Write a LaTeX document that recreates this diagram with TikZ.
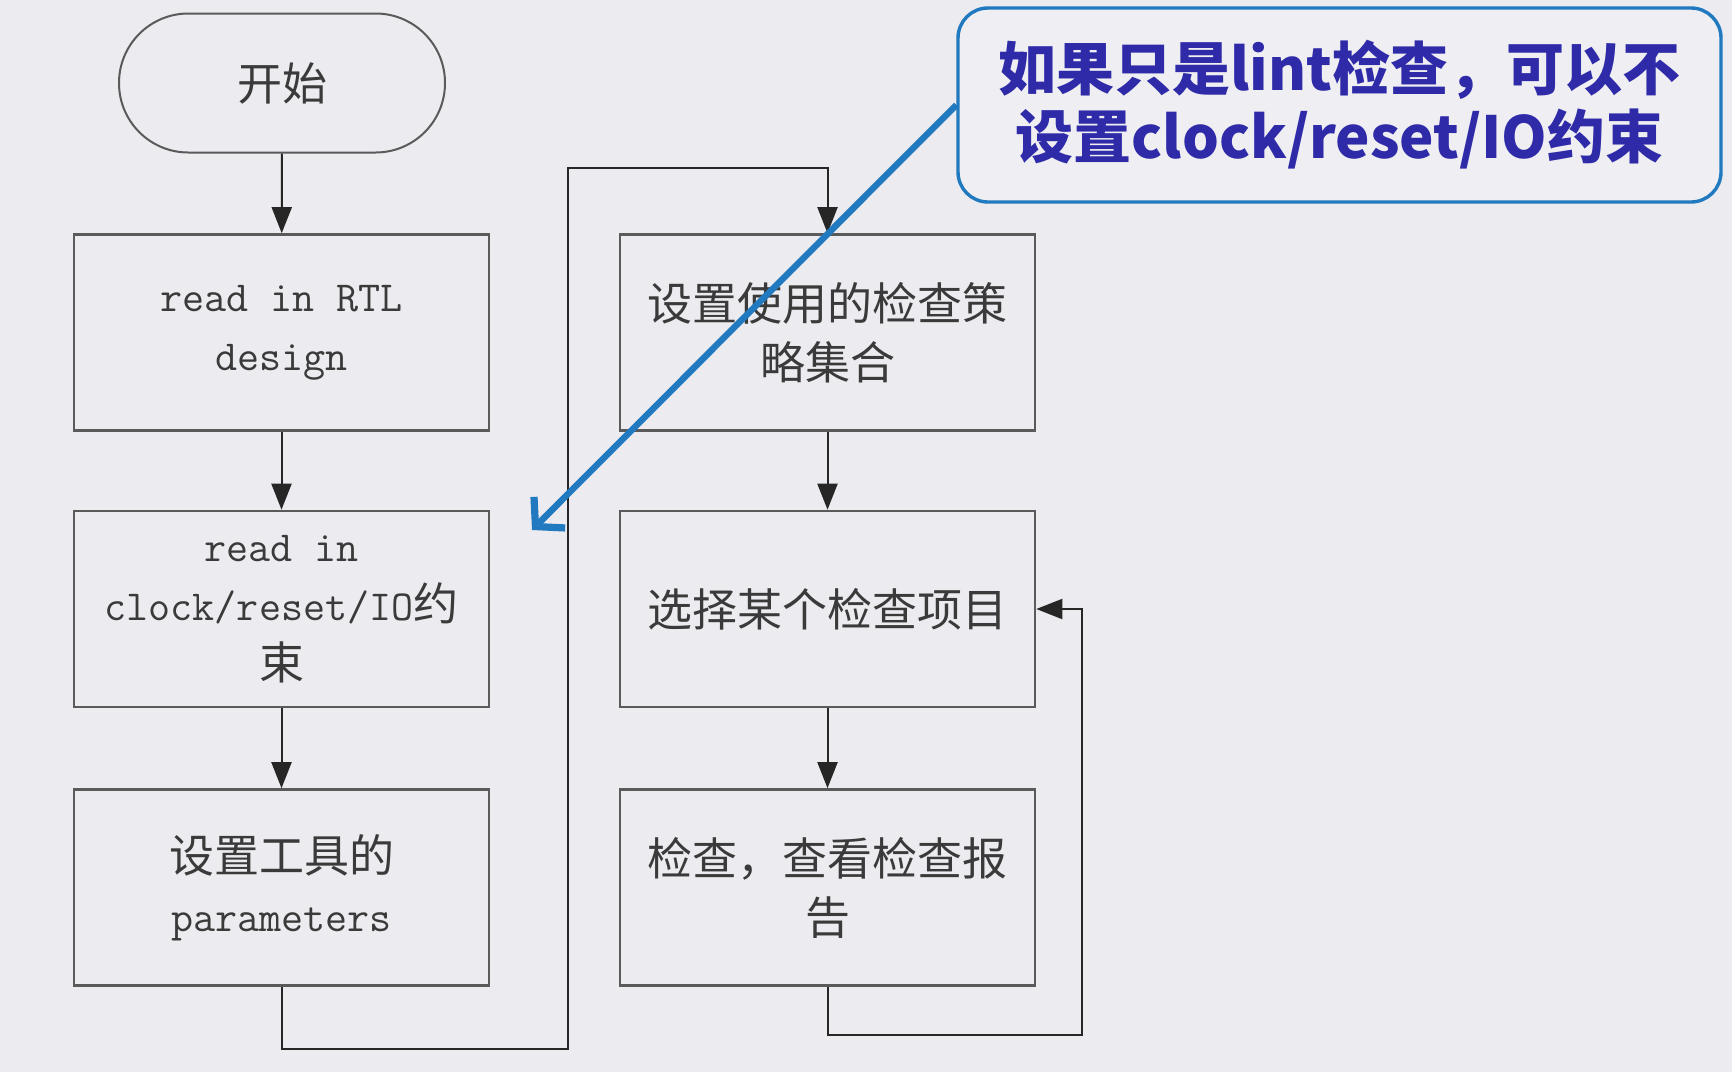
\documentclass[tikz,border=0pt]{standalone}
\usepackage{fontspec}
\usetikzlibrary{arrows.meta}
\newfontfamily\cjk{Noto Sans CJK SC}
\newcommand\mono{\ttfamily\fontsize{21.4}{29.5}\selectfont}
\definecolor{bgc}{HTML}{ECEBEF}
\definecolor{boxline}{HTML}{5A5A5A}
\definecolor{txtc}{HTML}{3A3A3A}
\definecolor{callblue}{HTML}{2179C0}
\definecolor{callfill}{HTML}{EFEFF3}
\definecolor{calltext}{HTML}{2E2AA8}
\tikzset{
  stepbox/.style={draw=boxline, line width=1.3pt, fill=bgc, minimum width=207.5pt,
    minimum height=98pt, align=center, text=txtc, inner sep=0pt,
    font=\cjk\fontsize{22.5}{29.5}\selectfont},
  termbox/.style={draw=boxline, line width=1pt, fill=bgc, minimum width=163pt,
    minimum height=69.5pt, rounded corners=34.7pt, text=txtc, inner sep=0pt,
    font=\cjk\fontsize{22.5}{29.5}\selectfont},
  arr/.style={draw=black!85, line width=1pt, -{Triangle[length=13pt,width=10pt]}},
  callbox/.style={draw=callblue, line width=1.7pt, fill=callfill, rounded corners=15pt,
    minimum width=381.5pt, minimum height=97pt, align=center, text=calltext,
    inner sep=0pt, font=\cjk\bfseries\fontsize{29}{34}\selectfont},
  bluearr/.style={draw=callblue, line width=3.2pt,
    -{Straight Barb[length=10pt,width=22pt,line width=3.6pt]}}
}
\begin{document}
\begin{tikzpicture}[x=0.5pt,y=-0.5pt]
\fill[bgc] (0,0) rectangle (1732,1072);
\useasboundingbox (0,0) rectangle (1732,1072);

\node[termbox] (s) at (282,83) {开始};

\node[stepbox] (b1) at (281.5,332.5) {{\mono read in RTL}\\{\mono design}};
\node[stepbox] (b2) at (281.5,609) {{\mono read in}\\{\mono clock/reset/IO}约\\束};
\node[stepbox] (b3) at (281.5,887.5) {设置工具的\\{\mono parameters}};

\node[stepbox] (r1) at (827.5,332.5) {设置使用的检查策\\略集合};
\node[stepbox] (r2) at (827.5,609) {选择某个检查项目};
\node[stepbox] (r3) at (827.5,887.5) {检查，查看检查报\\告};

\coordinate (lp1) at (568,1049);
\coordinate (lp2) at (568,168);
\coordinate (rp1) at (1082,1035);

\draw[arr] (s) -- (b1);
\draw[arr] (b1) -- (b2);
\draw[arr] (b2) -- (b3);
\draw[arr] (b3.south) |- (lp1) -- (lp2) -| (r1.north);
\draw[arr] (r1) -- (r2);
\draw[arr] (r2) -- (r3);
\draw[arr] (r3.south) |- (rp1) |- (r2.east);

\node[callbox] (call) at (1339.5,105) {如果只是lint检查，可以不\\设置clock/reset/IO约束};
\coordinate (tipc) at (532,530);
\draw[bluearr] (call.west) -- (tipc);
\end{tikzpicture}
\end{document}
